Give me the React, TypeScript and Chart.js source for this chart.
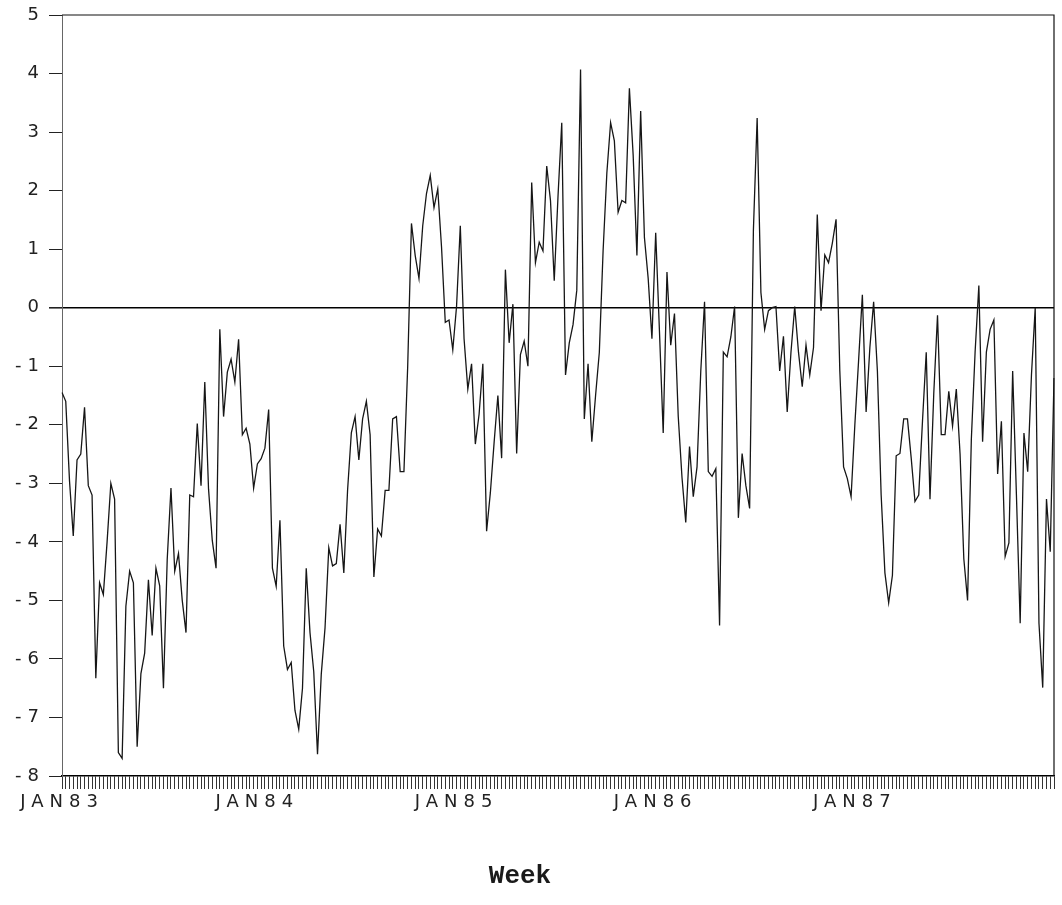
import { useEffect, useRef } from 'react';
import { Chart, registerables } from 'chart.js';

Chart.register(...registerables);

// Weekly index values, January 1983 through December 1987.
const weeklyValues: number[] = [
  -1.45, -1.6, -2.96, -3.9, -2.6, -2.5, -1.7, -3.04, -3.2, -6.33,
  -4.7, -4.9, -4.0, -3.0, -3.27, -7.6, -7.7, -5.1, -4.5, -4.7,
  -7.5, -6.25, -5.9, -4.65, -5.6, -4.45, -4.75, -6.5, -4.3, -3.08,
  -4.5, -4.2, -5.0, -5.55, -3.2, -3.23, -1.98, -3.04, -1.27, -3.1,
  -3.98, -4.45, -0.37, -1.86, -1.1, -0.88, -1.27, -0.54, -2.17, -2.06,
  -2.33, -3.08, -2.67, -2.58, -2.4, -1.74, -4.45, -4.76, -3.63, -5.78,
  -6.18, -6.06, -6.88, -7.2, -6.5, -4.45, -5.55, -6.22, -7.63, -6.26,
  -5.47, -4.1, -4.41, -4.37, -3.7, -4.53, -3.12, -2.14, -1.86, -2.6,
  -1.9, -1.6, -2.17, -4.6, -3.78, -3.9, -3.12, -3.12, -1.9, -1.86,
  -2.8, -2.8, -1.0, 1.44, 0.89, 0.5, 1.4, 1.95, 2.26, 1.71,
  2.03, 1.04, -0.25, -0.21, -0.72, 0.02, 1.4, -0.53, -1.39, -0.96,
  -2.33, -1.82, -0.96, -3.82, -3.16, -2.3, -1.5, -2.57, 0.65, -0.6,
  0.06, -2.49, -0.8, -0.57, -1.0, 2.14, 0.77, 1.12, 0.97, 2.42,
  1.83, 0.46, 1.9, 3.16, -1.15, -0.6, -0.29, 0.3, 4.07, -1.9,
  -0.96, -2.29, -1.5, -0.76, 0.97, 2.3, 3.16, 2.85, 1.63, 1.83,
  1.79, 3.75, 2.61, 0.89, 3.36, 1.2, 0.5, -0.53, 1.28, -0.4,
  -2.14, 0.61, -0.64, -0.1, -1.86, -2.9, -3.67, -2.37, -3.23, -2.72,
  -1.08, 0.1, -2.8, -2.88, -2.75, -5.43, -0.76, -0.84, -0.5, 0.02,
  -3.59, -2.49, -3.04, -3.43, 1.32, 3.24, 0.26, -0.37, -0.05, 0.0,
  0.02, -1.08, -0.49, -1.78, -0.76, 0.02, -0.76, -1.35, -0.64, -1.15,
  -0.68, 1.59, -0.05, 0.9, 0.77, 1.1, 1.51, -1.08, -2.72, -2.92,
  -3.23, -2.0, -0.9, 0.22, -1.78, -0.68, 0.1, -1.08, -3.2, -4.53,
  -5.04, -4.57, -2.53, -2.49, -1.9, -1.9, -2.57, -3.31, -3.2, -1.94,
  -0.76, -3.27, -1.47, -0.13, -2.17, -2.17, -1.43, -2.02, -1.39, -2.5,
  -4.29, -5.0, -2.25, -0.76, 0.38, -2.29, -0.76, -0.37, -0.21, -2.84,
  -1.94, -4.25, -4.02, -1.08, -3.2, -5.39, -2.14, -2.8, -1.15, 0.0,
  -5.39, -6.49, -3.27, -4.17, -1.2,
];

// Year-start labels and the week index each one sits on.
const yearLabels: string[] = ['JAN83', 'JAN84', 'JAN85', 'JAN86', 'JAN87'];
const yearStartWeeks: number[] = [0, 52, 105, 158, 211];

// Value axis range.
const yMin = -8;
const yMax = 5;

const axisTitle = 'Week';

const weekLabels: string[] = weeklyValues.map((_, i) => {
  const k = yearStartWeeks.indexOf(i);
  return k >= 0 ? yearLabels[k] : '';
});

const tickFont = { family: '"DejaVu Sans", "Liberation Sans", sans-serif', size: 18 };

const framePlugin = {
  id: 'frameAndTitle',
  beforeDraw(chart: any) {
    chart.ctx.letterSpacing = '6px';
  },
  afterDraw(chart: any) {
    const { ctx, chartArea } = chart;
    ctx.save();
    ctx.strokeStyle = '#111';
    ctx.lineWidth = 1.2;
    ctx.beginPath();
    ctx.moveTo(chartArea.left, chartArea.top);
    ctx.lineTo(chartArea.right, chartArea.top);
    ctx.lineTo(chartArea.right, chartArea.bottom);
    ctx.stroke();
    ctx.letterSpacing = '0px';
    ctx.fillStyle = '#1a1a1a';
    ctx.font = 'bold 26px "Liberation Mono", "Courier New", monospace';
    ctx.textAlign = 'center';
    ctx.textBaseline = 'middle';
    ctx.fillText(axisTitle, 520, 876);
    ctx.restore();
  },
};

export default function App() {
  const canvasRef = useRef<HTMLCanvasElement | null>(null);

  useEffect(() => {
    const canvas = canvasRef.current;
    if (!canvas) return;
    const chart = new Chart(canvas, {
      type: 'line',
      data: {
        labels: weekLabels,
        datasets: [
          {
            data: weeklyValues,
            borderColor: '#161616',
            borderWidth: 1.3,
            pointRadius: 0,
            tension: 0,
            fill: false,
          },
        ],
      },
      options: {
        responsive: false,
        animation: false,
        devicePixelRatio: 1,
        layout: { padding: { left: 0, right: 8, top: 15, bottom: 0 } },
        plugins: {
          legend: { display: false },
          tooltip: { enabled: false },
          title: { display: false },
        },
        scales: {
          x: {
            type: 'category',
            offset: false,
            afterFit(scale: any) {
              scale.height = 129;
            },
            grid: {
              display: true,
              drawOnChartArea: false,
              drawTicks: true,
              tickLength: 13,
              tickColor: '#333',
              lineWidth: 1,
            },
            border: { display: true, color: '#000', width: 1.5 },
            ticks: {
              autoSkip: false,
              maxRotation: 0,
              minRotation: 0,
              padding: 3,
              color: '#222',
              font: tickFont,
            },
          },
          y: {
            type: 'linear',
            min: yMin,
            max: yMax,
            afterFit(scale: any) {
              scale.width = 62;
            },
            grid: {
              drawOnChartArea: true,
              tickLength: 13,
              tickColor: '#222',
              color: (c: any) => (c.tick && c.tick.value === 0 ? '#000' : 'rgba(0,0,0,0)'),
              lineWidth: (c: any) => (c.tick && c.tick.value === 0 ? 1.6 : 1),
            },
            border: { display: true, color: '#666', width: 1 },
            ticks: {
              stepSize: 1,
              padding: 4,
              color: '#222',
              font: tickFont,
              callback: (v: any) => String(v),
            },
          },
        },
      },
      plugins: [framePlugin],
    });
    return () => chart.destroy();
  }, []);

  return (
    <div style={{ position: 'fixed', left: 0, top: 0, width: 1062, height: 905, background: '#fff' }}>
      <canvas ref={canvasRef} width={1062} height={905} />
    </div>
  );
}
